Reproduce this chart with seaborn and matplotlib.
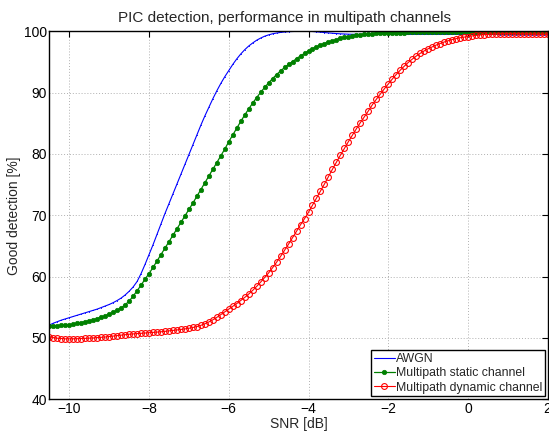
import numpy as np
import pandas as pd
import matplotlib
matplotlib.use("Agg")
import matplotlib.pyplot as plt
import seaborn as sns

# SNR grid, 0.1 dB steps from -10.5 to 2.0 dB
snr = np.linspace(-10.5, 2.0, 126)

awgn = [
    52.1, 52.4, 52.65, 52.9, 53.1,
    53.3, 53.5, 53.7, 53.9, 54.1, 54.3, 54.5, 54.7, 54.95, 55.2,
    55.45, 55.75, 56.1, 56.5, 57.0, 57.6, 58.3, 59.2, 60.5, 62.0,
    63.6, 65.2, 66.9, 68.6, 70.3, 71.9, 73.5, 75.1, 76.7, 78.3,
    79.9, 81.5, 83.1, 84.7, 86.2, 87.6, 89.0, 90.3, 91.5, 92.6,
    93.6, 94.6, 95.5, 96.3, 97.0, 97.6, 98.1, 98.55, 98.9, 99.2,
    99.42, 99.6, 99.72, 99.82, 99.89, 99.94, 99.97, 99.99, 100.0, 100.0,
    100.0, 99.97, 99.92, 99.86, 99.8, 99.74, 99.68, 99.63, 99.59, 99.56,
    99.53, 99.51, 99.5, 99.5, 99.5, 99.5, 99.5, 99.5, 99.5, 99.5,
    99.5, 99.5, 99.5, 99.5, 99.5, 99.5, 99.5, 99.5, 99.5, 99.5,
    99.5, 99.5, 99.5, 99.5, 99.5, 99.5, 99.5, 99.5, 99.5, 99.5,
    99.5, 99.5, 99.49, 99.49, 99.49, 99.48, 99.48, 99.48, 99.47, 99.47,
    99.47, 99.46, 99.46, 99.46, 99.45, 99.45, 99.45, 99.44, 99.44, 99.44,
    99.43,
]

static = [
    52.0, 52.0, 52.0, 52.05, 52.1,
    52.15, 52.25, 52.35, 52.5, 52.65, 52.8, 52.95, 53.15, 53.35, 53.6,
    53.85, 54.15, 54.5, 54.9, 55.4, 56.0, 56.8, 57.7, 58.6, 59.6,
    60.5, 61.5, 62.55, 63.6, 64.65, 65.7, 66.75, 67.8, 68.85, 69.9,
    70.95, 72.0, 73.1, 74.2, 75.3, 76.4, 77.5, 78.6, 79.7, 80.8,
    82.0, 83.1, 84.2, 85.3, 86.35, 87.35, 88.3, 89.2, 90.05, 90.85,
    91.6, 92.3, 92.95, 93.55, 94.1, 94.6, 95.05, 95.55, 96.0, 96.4,
    96.8, 97.15, 97.45, 97.75, 98.0, 98.25, 98.45, 98.65, 98.85, 99.0,
    99.12, 99.24, 99.34, 99.42, 99.5, 99.56, 99.61, 99.65, 99.69, 99.72,
    99.75, 99.77, 99.78, 99.79, 99.8, 99.81, 99.82, 99.82, 99.83, 99.83,
    99.84, 99.84, 99.84, 99.85, 99.85, 99.85, 99.85, 99.86, 99.86, 99.86,
    99.86, 99.86, 99.87, 99.87, 99.87, 99.87, 99.87, 99.88, 99.88, 99.88,
    99.88, 99.88, 99.88, 99.88, 99.88, 99.88, 99.88, 99.88, 99.88, 99.88,
    99.88,
]

dynamic = [
    50.2, 50.05, 49.95, 49.9, 49.85,
    49.85, 49.85, 49.87, 49.9, 49.93, 49.96, 50.0, 50.05, 50.1, 50.15,
    50.22, 50.3, 50.37, 50.45, 50.52, 50.6, 50.65, 50.7, 50.75, 50.8,
    50.85, 50.9, 50.95, 51.0, 51.07, 51.15, 51.22, 51.3, 51.38, 51.47,
    51.57, 51.7, 51.85, 52.05, 52.3, 52.6, 52.95, 53.35, 53.8, 54.25,
    54.7, 55.15, 55.6, 56.1, 56.6, 57.15, 57.75, 58.4, 59.1, 59.85,
    60.6, 61.45, 62.35, 63.3, 64.3, 65.3, 66.35, 67.4, 68.45, 69.45,
    70.5, 71.65, 72.8, 73.95, 75.1, 76.3, 77.5, 78.65, 79.8, 80.9,
    82.0, 83.05, 84.1, 85.1, 86.05, 87.0, 88.0, 88.9, 89.75, 90.6,
    91.4, 92.2, 92.95, 93.65, 94.3, 94.9, 95.45, 95.95, 96.4, 96.8,
    97.15, 97.45, 97.75, 98.0, 98.25, 98.45, 98.65, 98.8, 98.95, 99.05,
    99.15, 99.25, 99.33, 99.4, 99.46, 99.5, 99.54, 99.57, 99.59, 99.6,
    99.6, 99.6, 99.6, 99.59, 99.58, 99.57, 99.56, 99.55, 99.54, 99.53,
    99.52,
]

x_ticks = [-10, -8, -6, -4, -2, 0, 2]
y_ticks = [40, 50, 60, 70, 80, 90, 100]

df = pd.DataFrame({"snr": snr, "awgn": awgn, "static": static, "dynamic": dynamic})

sns.set_style("white")
plt.rcParams["font.family"] = ["Liberation Sans", "DejaVu Sans"]
plt.rcParams["font.size"] = 10

fig = plt.figure(figsize=(5.49, 4.33), dpi=100)
ax = fig.add_axes([0.09, 0.078, 0.9076, 0.8497])

sns.lineplot(data=df, x="snr", y="awgn", ax=ax, color="#0000ff", lw=0.8,
             marker=".", markersize=1.5, markeredgewidth=0, label="AWGN", sort=False)
sns.lineplot(data=df, x="snr", y="static", ax=ax, color="#008000", lw=0.9,
             marker="o", markersize=3.2, markeredgecolor="#008000", markeredgewidth=0.5,
             label="Multipath static channel", sort=False)
sns.lineplot(data=df, x="snr", y="dynamic", ax=ax, color="#ff0000", lw=0.8,
             marker="o", markersize=4.2, markerfacecolor="none", markeredgecolor="#ff0000",
             markeredgewidth=0.8, label="Multipath dynamic channel", sort=False)

ax.set_xlim(-10.5, 2)
ax.set_ylim(40, 100)
ax.set_xticks(x_ticks)
ax.set_yticks(y_ticks)
ax.grid(True, color="#b0b0b0", linestyle=(0, (1, 2)), linewidth=0.7)
ax.tick_params(direction="in", top=True, right=True, length=4, width=0.8,
               labelsize=10, colors="black", pad=2)
for s in ax.spines.values():
    s.set_color("black")
    s.set_linewidth(1.0)

ax.set_title("PIC detection, performance in multipath channels", fontsize=11,
             pad=7, x=0.471)
ax.set_xlabel("SNR [dB]", fontsize=10, labelpad=1)
ax.set_ylabel("Good detection [%]", fontsize=10, labelpad=2)

leg = ax.legend(loc="lower right", fontsize=8.8, frameon=True, fancybox=False,
                edgecolor="black", framealpha=1, borderaxespad=0.25,
                handlelength=1.7, handletextpad=0.1, borderpad=0.2, labelspacing=0.2)
leg.get_frame().set_linewidth(1.0)

fig.savefig("out.png", dpi=100)
